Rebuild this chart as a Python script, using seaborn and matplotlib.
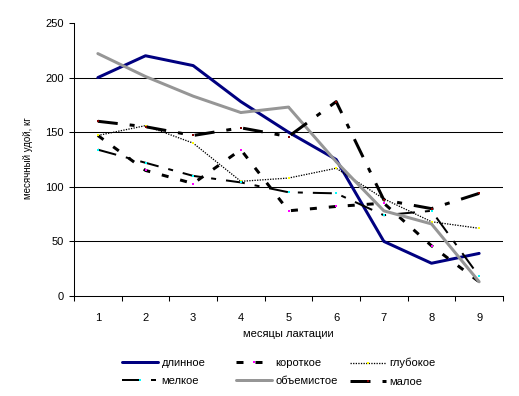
import matplotlib
matplotlib.use('Agg')
import matplotlib.pyplot as plt
import seaborn as sns

# monthly milk yield by udder shape
months = [1, 2, 3, 4, 5, 6, 7, 8, 9]
dlinnoe = [200, 220, 211, 178, 150, 125, 50, 30, 39]
korotkoe = [147, 115, 103, 134, 78, 82, 85, 46, 13]
glubokoe = [147, 156, 140, 105, 108, 117, 89, 68, 62]
melkoe = [134, 122, 110, 104, 95, 94, 74, 78, 18]
obemistoe = [222, 201, 183, 168, 173, 123, 78, 66, 13]
maloe = [160, 155, 147, 154, 146, 178, 88, 80, 94]
names = ['длинное', 'короткое', 'глубокое', 'мелкое', 'объемистое', 'малое']
y_ticks = [0, 50, 100, 150, 200, 250]

sns.set_theme(style='white')
plt.rcParams['font.family'] = ['Liberation Sans', 'DejaVu Sans']
plt.rcParams['lines.scale_dashes'] = False
for k in ['text.color', 'axes.labelcolor', 'xtick.color', 'ytick.color']:
    plt.rcParams[k] = 'black'

PX = 72 / 100  # pixel -> point at dpi 100


def dash(*px):
    return (0, tuple(v * PX for v in px))


styles = [
    dict(color='#000080', lw=3 * PX, ls='-', mfc='#000080'),
    dict(color='black', lw=3 * PX, ls=dash(7, 12), mfc='#FF00FF'),
    dict(color='black', lw=1.3 * PX, ls=dash(1.3, 1.3), mfc='#FFFF00'),
    dict(color='black', lw=2 * PX, ls=dash(19, 10, 5, 10), mfc='#00FFFF'),
    dict(color='#969696', lw=3 * PX, ls='-', mfc='#969696'),
    dict(color='black', lw=3 * PX, ls=dash(20, 12, 5, 12), mfc='#800000'),
]
series = [dlinnoe, korotkoe, glubokoe, melkoe, obemistoe, maloe]

fig, ax = plt.subplots(figsize=(5.19, 3.96), dpi=100)
fig.subplots_adjust(left=74 / 519, right=503 / 519,
                    bottom=1 - 296 / 396, top=1 - 23 / 396)

# horizontal gridlines (not at 0 or 250)
for t in y_ticks[1:-1]:
    ax.axhline(t, color='black', lw=0.75, zorder=0)

for vals, name, st in zip(series, names, styles):
    sns.lineplot(x=months, y=vals, ax=ax, label=name, color=st['color'],
                 lw=st['lw'], linestyle=st['ls'], marker='s', markersize=1.6,
                 markerfacecolor=st['mfc'], markeredgewidth=0)

handles, labels = ax.get_legend_handles_labels()
ax.get_legend().remove()

ax.set_xlim(0.5, 9.5)
ax.set_ylim(0, 250)
ax.set_yticks(y_ticks)
ax.set_xticks(months)
ax.set_xticks([m + 0.5 for m in [0] + months], minor=True)
ax.set_xlabel('')
ax.set_ylabel('')

ax.tick_params(axis='x', which='major', length=0, pad=12, labelsize=8)
ax.tick_params(axis='x', which='minor', length=3.6, width=0.75,
               direction='out', bottom=True)
ax.tick_params(axis='y', length=3.6, width=0.75, pad=4, labelsize=8,
               direction='out', left=True)

for side in ['top', 'right']:
    ax.spines[side].set_visible(False)
for side in ['left', 'bottom']:
    ax.spines[side].set_color('black')
    ax.spines[side].set_linewidth(0.75)

fig.text(28 / 519, 1 - 158 / 396, 'месячный удой, кг', rotation=90,
         ha='center', va='center', fontsize=7)
fig.text(288 / 519, 1 - 334 / 396, 'месяцы лактации',
         ha='center', va='center', fontsize=8)

# legend: three columns, placed separately to keep Excel-like spacing
col_x = [122, 236, 350]
for i, x in enumerate(col_x):
    idx = [i, i + 3]
    fig.legend([handles[j] for j in idx], [labels[j] for j in idx],
               loc='upper left', bbox_to_anchor=(x / 519, 1 - 358 / 396),
               frameon=False, fontsize=8, handlelength=3.25,
               handletextpad=0.3, borderpad=0, borderaxespad=0,
               labelspacing=0.75)

fig.savefig('out.png', dpi=100)
